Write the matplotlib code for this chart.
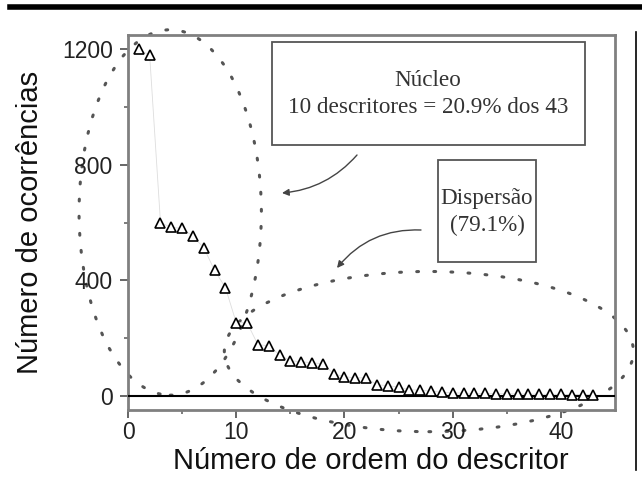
import matplotlib
matplotlib.use("Agg")
import matplotlib.pyplot as plt
from matplotlib.patches import Ellipse, Rectangle
from matplotlib.lines import Line2D

# dados: número de ocorrências por ordem do descritor
ordem = list(range(1, 44))
ocorrencias = [1200, 1180, 600, 583, 580, 552, 513, 434, 375, 253,
               253, 177, 173, 142, 121, 118, 114, 111, 76, 66,
               62, 62, 38, 35, 30, 21, 19, 16, 12, 10,
               9, 8, 8, 7, 7, 6, 6, 5, 5, 5,
               4, 4, 3]

x_ticks = [0, 10, 20, 30, 40]
y_ticks = [0, 400, 800, 1200]

texto_nucleo = "Núcleo\n10 descritores = 20.9% dos 43"
texto_disp = "Dispersão\n(79.1%)"

fig = plt.figure(figsize=(6.42, 4.99), dpi=100)
ax = fig.add_axes([0.1994, 0.178, 0.7586, 0.752])

sans = "Liberation Sans"
serif = "Liberation Serif"

ax.plot(ordem, ocorrencias, color="#dddddd", lw=0.6, zorder=2)
ax.plot(ordem, ocorrencias, linestyle="none", marker="^", ms=7.5,
        mfc="white", mec="black", mew=1.2, zorder=4)
ax.axhline(0, color="black", lw=1.5, zorder=3)

ax.set_xlim(0, 45)
ax.set_ylim(-50, 1250)
ax.set_xticks(x_ticks)
ax.set_yticks(y_ticks)
ax.set_xticks([5, 15, 25, 35], minor=True)
ax.set_yticks([200, 600, 1000], minor=True)
ax.tick_params(which="major", direction="out", length=6, width=1.4,
               color="#666666", labelsize=16.5, labelcolor="#222222")
ax.tick_params(axis="y", which="major", pad=5)
ax.tick_params(axis="x", which="major", pad=2)
ax.tick_params(which="minor", direction="out", length=3, width=1.2,
               color="#666666")
for lab in ax.get_xticklabels() + ax.get_yticklabels():
    lab.set_fontfamily(sans)
for sp in ax.spines.values():
    sp.set_color("#808080")
    sp.set_linewidth(2)

ax.set_xlabel("Número de ordem do descritor", fontsize=21, family=sans,
              color="#111111")
ax.set_ylabel("Número de ocorrências", fontsize=21, family=sans,
              color="#111111")
ax.xaxis.set_label_coords(0.499, -0.098)
ax.yaxis.set_label_coords(-0.172, 0.5)

# elipses pontilhadas (núcleo e dispersão)
elipse_kw = dict(fill=False, edgecolor="#555555", lw=2.2,
                 linestyle=(0, (0.6, 5)), capstyle="round",
                 clip_on=False, zorder=1)
ax.add_patch(Ellipse((3.9, 635), 16.85, 1266, **elipse_kw))
ax.add_patch(Ellipse((27.8, 153), 37.8, 555, **elipse_kw))

# caixas de texto
ax.add_artist(Rectangle((0.4237, 0.7094), 0.4875, 0.2064,
                        transform=fig.transFigure, fill=False,
                        edgecolor="#555555", lw=1.3, clip_on=False))
fig.text(428 / 642, 1 - 94 / 499, texto_nucleo, ha="center", va="center",
         family=serif, fontsize=16.7, color="#333333", linespacing=1.4)

ax.add_artist(Rectangle((0.6822, 0.475), 0.1526, 0.2044,
                        transform=fig.transFigure, fill=False,
                        edgecolor="#555555", lw=1.3, clip_on=False))
fig.text(487 / 642, 1 - 212 / 499, texto_disp, ha="center", va="center",
         family=serif, fontsize=16.7, color="#333333", linespacing=1.4)

# setas
seta = dict(arrowstyle="-|>", color="#444444", lw=1.0,
            mutation_scale=10, shrinkA=0, shrinkB=0)
ax.annotate("", xy=(282 / 642, 1 - 193 / 499), xycoords="figure fraction",
            xytext=(357 / 642, 1 - 155 / 499), textcoords="figure fraction",
            arrowprops=dict(connectionstyle="arc3,rad=-0.2", **seta))
ax.annotate("", xy=(337 / 642, 1 - 268 / 499), xycoords="figure fraction",
            xytext=(421 / 642, 1 - 230 / 499), textcoords="figure fraction",
            arrowprops=dict(connectionstyle="arc3,rad=0.25", **seta))

# bordas da página digitalizada
fig.add_artist(Line2D([10 / 642, 1], [0.985, 0.985], color="black", lw=4))
fig.add_artist(Line2D([636 / 642, 636 / 642], [1 - 32 / 499, 1 - 470 / 499],
                      color="black", lw=1.2))

fig.savefig("out.png", dpi=100)
